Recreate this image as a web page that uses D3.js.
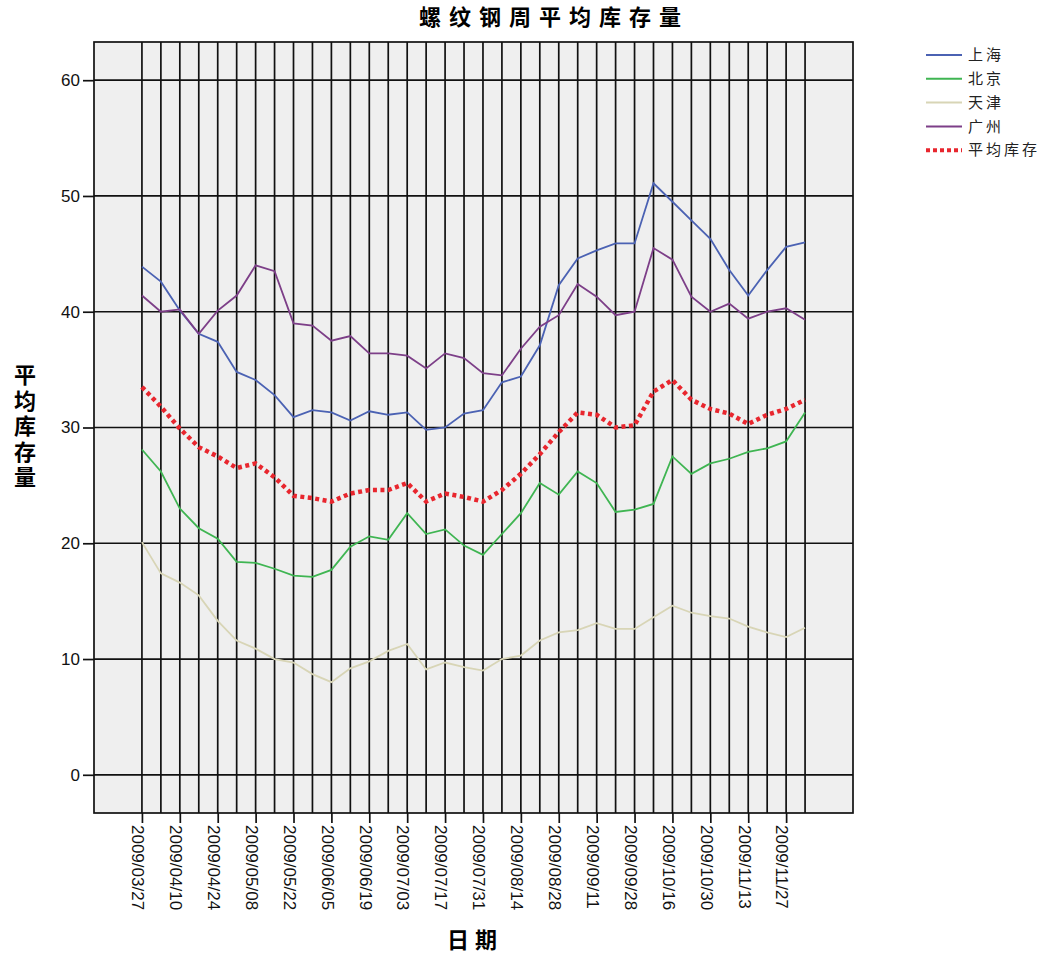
<!DOCTYPE html>
<html>
<head>
<meta charset="utf-8">
<script src="https://cdn.jsdelivr.net/npm/d3@7"></script>
<style>
  body { margin: 0; background: #fff; }
  text { font-family: "Liberation Sans", Arial, sans-serif; }
  .cjk { font-family: "Noto Sans CJK SC", sans-serif; }
</style>
</head>
<body>
<svg id="chart" width="1052" height="955"></svg>
<script>
// weekly dates (every other one is labelled)
const dates = ["2009/03/27","2009/04/03","2009/04/10","2009/04/17","2009/04/24","2009/05/01",
  "2009/05/08","2009/05/15","2009/05/22","2009/05/29","2009/06/05","2009/06/12","2009/06/19",
  "2009/06/26","2009/07/03","2009/07/10","2009/07/17","2009/07/24","2009/07/31","2009/08/07",
  "2009/08/14","2009/08/21","2009/08/28","2009/09/04","2009/09/11","2009/09/18","2009/09/28",
  "2009/10/09","2009/10/16","2009/10/23","2009/10/30","2009/11/06","2009/11/13","2009/11/20",
  "2009/11/27","2009/12/04"];

const shanghai = [43.9,42.6,40.1,38.1,37.4,34.8,34.1,32.8,30.9,31.5,31.3,30.6,31.4,31.1,31.3,29.8,
  30.0,31.2,31.5,33.9,34.4,37.1,42.3,44.6,45.3,45.9,45.9,51.1,49.5,47.9,46.3,43.6,41.4,43.6,45.6,46.0];
const beijing = [28.1,26.2,23.0,21.3,20.4,18.4,18.3,17.8,17.2,17.1,17.7,19.7,20.6,20.3,22.6,20.8,
  21.2,19.8,19.0,20.8,22.6,25.2,24.2,26.2,25.2,22.7,22.9,23.4,27.5,26.0,26.9,27.3,27.9,28.2,28.8,31.3];
const tianjin = [20.1,17.4,16.6,15.5,13.3,11.6,10.9,10.0,9.7,8.7,8.0,9.2,9.8,10.7,11.3,9.1,
  9.7,9.3,9.0,10.0,10.3,11.6,12.3,12.5,13.1,12.6,12.6,13.6,14.6,14.0,13.7,13.5,12.8,12.3,11.9,12.7];
const guangzhou = [41.4,40.0,40.2,38.1,40.1,41.4,44.0,43.5,39.0,38.8,37.5,37.9,36.4,36.4,36.2,35.1,
  36.4,36.0,34.7,34.5,36.8,38.7,39.7,42.4,41.3,39.7,40.0,45.5,44.5,41.3,40.0,40.7,39.4,40.0,40.3,39.3];
const average = [33.5,31.8,29.9,28.3,27.5,26.5,26.9,25.7,24.1,23.9,23.6,24.3,24.6,24.6,25.2,23.6,
  24.3,24.0,23.6,24.6,26.0,27.7,29.6,31.3,31.1,30.0,30.2,33.1,34.1,32.4,31.6,31.2,30.3,31.1,31.6,32.4];

const seriesNames = ["上海","北京","天津","广州","平均库存"];
const yTicks = [0,10,20,30,40,50,60];

const series = [
  {name: seriesNames[0], values: shanghai,  color: "#4b62b3", dash: null},
  {name: seriesNames[1], values: beijing,   color: "#3fb552", dash: null},
  {name: seriesNames[2], values: tianjin,   color: "#d8d5b6", dash: null},
  {name: seriesNames[3], values: guangzhou, color: "#7d3f88", dash: null},
  {name: seriesNames[4], values: average,   color: "#e8262e", dash: "4,3.5"}
];

const plotLeft = 94, plotTop = 42, plotRight = 853, plotBottom = 813;

svg = d3.select("#chart");

x = d3.scalePoint().domain(dates).range([plotLeft, plotRight]).padding(2.53);
y = d3.scaleLinear().domain([-3.3, 63.3]).range([plotBottom, plotTop]);

// plot background
svg.append("rect")
   .attr("x", plotLeft).attr("y", plotTop)
   .attr("width", plotRight-plotLeft).attr("height", plotBottom-plotTop)
   .attr("fill", "#efefef");

// grid
grid = svg.append("g");
grid.selectAll(".vline")
    .data(dates)
    .join("line")
    .attr("x1", d=>x(d)).attr("x2", d=>x(d))
    .attr("y1", plotTop).attr("y2", plotBottom)
    .attr("stroke", "#111").attr("stroke-width", 1.7);
grid.selectAll(".hline")
    .data(yTicks)
    .join("line")
    .attr("x1", plotLeft).attr("x2", plotRight)
    .attr("y1", d=>y(d)).attr("y2", d=>y(d))
    .attr("stroke", "#111").attr("stroke-width", 1.7);

// axes
yAxis = svg.append("g")
   .attr("transform", `translate(${plotLeft},0)`)
   .call(d3.axisLeft(y).tickValues(yTicks).tickSize(11).tickPadding(3));
yAxis.select(".domain").remove();
yAxis.selectAll("line").attr("stroke", "#111").attr("stroke-width", 1.7);
yAxis.selectAll("text").attr("font-size", 17).attr("fill", "#111")
     .attr("font-family", "Liberation Sans, Arial, sans-serif");

xAxis = svg.append("g")
   .attr("transform", `translate(0,${plotBottom})`)
   .call(d3.axisBottom(x).tickValues(dates.filter((d,i)=>i%2===0)).tickSize(10));
xAxis.select(".domain").remove();
xAxis.selectAll("line").attr("stroke", "#111").attr("stroke-width", 1.7);
xAxis.selectAll("text")
     .attr("transform", "rotate(90)")
     .attr("x", 12).attr("y", 0).attr("dy", "0.6em")
     .attr("text-anchor", "start")
     .attr("font-size", 17).attr("fill", "#111")
     .attr("font-family", "Liberation Sans, Arial, sans-serif");

// frame
svg.append("rect")
   .attr("x", plotLeft).attr("y", plotTop)
   .attr("width", plotRight-plotLeft).attr("height", plotBottom-plotTop)
   .attr("fill", "none").attr("stroke", "#111").attr("stroke-width", 1.7);

// lines
line = d3.line().x((d,i)=>x(dates[i])).y(d=>y(d));
svg.append("g").selectAll("path")
   .data(series)
   .join("path")
   .attr("d", d=>line(d.values))
   .attr("fill", "none")
   .attr("stroke", d=>d.color)
   .attr("stroke-width", d=>d.dash ? 4.5 : 1.8)
   .attr("stroke-dasharray", d=>d.dash);

// titles
svg.append("text").attr("class", "cjk")
   .attr("x", 554).attr("y", 25)
   .attr("text-anchor", "middle")
   .attr("font-size", 22).attr("font-weight", "bold")
   .attr("letter-spacing", 8)
   .text("螺纹钢周平均库存量");

svg.append("text").attr("class", "cjk")
   .attr("x", 475).attr("y", 948)
   .attr("text-anchor", "middle")
   .attr("font-size", 22).attr("font-weight", "bold")
   .attr("letter-spacing", 6)
   .text("日期");

// y title, stacked vertically
svg.append("text").attr("class", "cjk")
   .attr("x", 25).attr("y", 364)
   .style("writing-mode", "vertical-rl")
   .attr("font-size", 22).attr("font-weight", "bold")
   .attr("letter-spacing", 3.5)
   .text("平均库存量");

// legend
legend = svg.append("g").attr("transform", "translate(926,55)");
leg = legend.selectAll("g")
    .data(series)
    .join("g")
    .attr("transform", (d,i)=>`translate(0,${i*23.8})`);
leg.append("line")
   .attr("x1", 0).attr("x2", 36).attr("y1", 0).attr("y2", 0)
   .attr("stroke", d=>d.color)
   .attr("stroke-width", d=>d.dash ? 4 : 2)
   .attr("stroke-dasharray", d=>d.dash ? "4,3" : null);
leg.append("text").attr("class", "cjk")
   .attr("x", 42).attr("dy", "0.35em")
   .attr("font-size", 15).attr("fill", "#222")
   .attr("letter-spacing", 3)
   .text(d=>d.name);
</script>
</body>
</html>
